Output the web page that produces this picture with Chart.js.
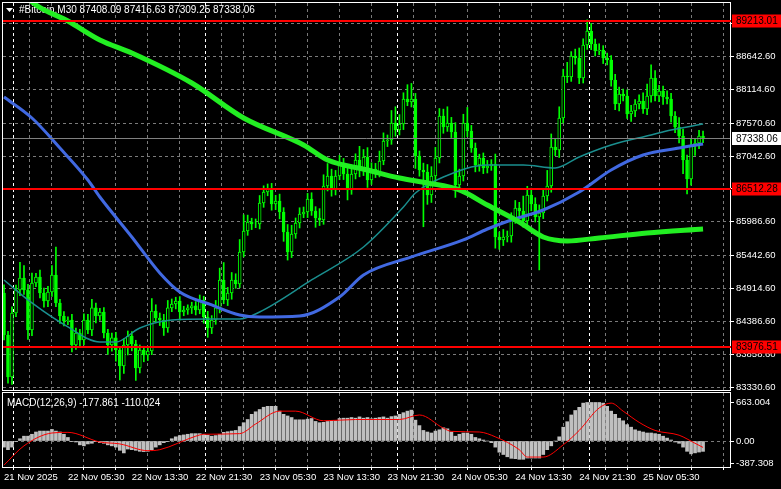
<!DOCTYPE html>
<html><head><meta charset="utf-8">
<script src="https://cdn.jsdelivr.net/npm/chart.js@4.4.1/dist/chart.umd.min.js"></script>
<style>
html,body{margin:0;padding:0;background:#000;width:781px;height:489px;overflow:hidden}
#w1{position:absolute;left:0;top:0;width:781px;height:392px}
#w2{position:absolute;left:0;top:391px;width:781px;height:98px}
</style></head><body>
<div id="w1"><canvas id="c1"></canvas></div>
<div id="w2"><canvas id="c2"></canvas></div>
<script>
const firstOpen = 84844;
const closes = [
84170,83495,84523,84893,85085,84893,84250,85005,85101,84844,
84716,84860,85133,84684,84475,84395,84411,84009,84202,84090,
84411,84250,84604,84475,84539,84202,84009,84122,83929,83672,
84009,84154,84025,83640,83929,83849,83913,84555,84443,84411,
84282,84604,84668,84716,84539,84571,84604,84636,84571,84732,
84459,84282,84411,84604,85053,84732,84844,85053,84989,85503,
85840,85985,85953,85953,86290,86466,86515,86274,86322,86145,
85824,85503,85792,85969,86113,86145,86354,86161,86049,86017,
86563,86723,86499,86723,86916,86756,86499,86756,86980,86820,
87029,86659,86836,86788,86964,87286,87302,87575,87462,87559,
87960,87912,87960,87045,86820,86788,86418,86723,87013,87687,
87510,87575,87430,86579,86723,87575,87446,87173,86900,87013,
86852,86884,86916,85744,85696,85744,85760,86033,86210,86161,
86001,86418,86274,86065,86129,86402,86563,87189,87141,87655,
88329,88313,88651,88619,88297,88827,89052,88843,88731,88747,
88619,88586,88265,87880,88040,88008,87719,87767,87880,87928,
87799,88008,88297,88008,88089,87992,87960,87687,87510,87366,
86980,86675,87205,87253,87366,87338];
const wickUp = [
130,60,100,80,250,200,90,160,60,110, 80,90,150,450,60,70,50,90,80,60,
100,90,140,80,60,70,60,80,90,60, 100,80,70,60,80,60,60,200,100,80,
90,120,80,60,70,60,50,60,70,80, 60,90,70,120,190,280,90,120,100,200,
260,110,60,80,120,100,80,90,90,110, 70,120,140,80,100,80,90,100,70,150,
180,200,110,90,140,90,120,80,100,220, 120,150,100,90,160,130,80,200,260,150,
100,230,250,90,80,110,120,150,170,120, 110,260,90,150,110,140,250,90,80,60,
80,90,70,160,80,120,80,100,120,90, 240,140,110,100,130,120,250,210,130,180,
110,220,70,110,160,100,180,120,80,100, 70,80,70,90,110,80,100,90,70,100,
130,190,210,120,90,80,100,90,70,150, 110,80,110,70,90,80];
const wickDown = [
80,100,120,60,90,70,150,90,60,80, 100,90,70,60,120,80,60,110,70,90,
80,60,90,110,70,80,150,100,180,225, 120,160,110,200,80,110,90,60,80,90,
120,70,60,80,130,60,70,90,80,60, 100,150,90,70,80,60,90,100,70,60,
80,70,90,60,80,70,60,100,90,110, 150,130,90,70,80,60,90,70,150,90,
70,80,100,80,60,90,160,70,80,110, 90,120,70,90,80,60,90,70,100,80,
90,60,80,200,100,880,150,120,90,80, 100,70,90,200,110,80,90,70,110,100,
90,80,70,180,150,90,80,100,70,120, 100,90,110,80,850,90,80,100,90,120,
80,90,70,100,90,80,70,90,80,60, 90,80,100,90,110,80,70,120,90,80,
70,90,100,80,90,120,80,100,90,110, 220,240,100,150,90,80];
// moving averages (bar index, price)
const maSlowIdx = [0,8,16,24,32,47,60,75,81,91,99,106,114,121,129,135,141,149,161,175];
const maSlowVal = [89950,89470,89213,88908,88699,88217,87655,87221,86980,86820,86691,86611,86499,86258,85985,85744,85680,85728,85808,85872];
const maMidIdx = [0,7,14,21,24,32,39,44,52,59,64,74,84,90,102,115,121,127,135,144,152,160,169,175];
const maMidVal = [87992,87655,87173,86659,86386,85744,85166,84861,84652,84491,84459,84475,84780,85134,85423,85696,85872,86017,86177,86466,86820,87061,87173,87237];
const maFastIdx = [0,7,16,24,28,34,42,52,59,64,77,90,100,103,110,121,130,138,144,152,162,167,175];
const maFastVal = [85053,84684,84299,84057,84057,84282,84411,84427,84427,84539,85053,85583,86226,86450,86707,86900,86900,86852,87029,87221,87382,87462,87559];
const macdHist = [
-105,-149,-105,-11,39,83,83,116,155,171, 171,171,199,171,155,116,61,-6,-17,-66,
-83,-50,-39,-11,-28,-39,-66,-83,-105,-160, -205,-138,-149,-160,-177,-182,-177,-149,-105,-66,
-28,-6,39,72,94,105,116,127,127,127, 116,100,83,94,116,149,160,171,182,249,
315,370,459,503,542,581,597,597,597,514, 459,431,404,365,365,365,376,387,337,315,
321,337,348,348,387,393,393,404,393,415, 393,404,382,393,404,415,393,420,431,459,
487,514,531,359,265,182,155,138,171,193, 227,210,155,83,116,138,138,116,61,39,
17,0,-28,-105,-193,-232,-271,-298,-304,-315, -315,-293,-293,-293,-293,-232,-149,-83,0,72,
238,332,448,525,580,652,663,663,663,663, 652,597,514,459,392,348,282,238,193,171,
155,138,138,127,116,83,50,17,-17,-39, -105,-177,-221,-204,-190,-178];
const sigIdx = [0,5,12,16,24,29,36,39,48,50,59,63,69,73,80,88,99,104,110,112,119,123,129,131,135,140,144,149,152,155,159,163,169,173,175];
const sigVal = [-415,-83,138,149,-17,-50,-166,-149,83,116,127,293,514,514,348,370,370,448,221,166,155,72,-149,-276,-276,-66,182,569,652,514,321,182,100,-39,-110];
const priceTicks = [89170.6,88642.6,88114.6,87570.6,87042.6,86514.6,85986.6,85442.6,84914.6,84386.6,83858.6,83330.6];
const macdTicks = [663.004,0,-387.308];
const levels = [89213.01,86512.28,83976.51];
const lastPrice = 87338.06;
const timeLabels = {0:'21 Nov 2025',16:'22 Nov 05:30',32:'22 Nov 13:30',48:'22 Nov 21:30',64:'23 Nov 05:30',80:'23 Nov 13:30',96:'23 Nov 21:30',112:'24 Nov 05:30',128:'24 Nov 13:30',144:'24 Nov 21:30',160:'25 Nov 05:30'};
const dayIdx = [5,53,101,149];
const headerText = '#Bitcoin,M30 87408.09 87416.63 87309.25 87338.06';
const macdText = 'MACD(12,26,9) -177.861 -110.024';

const FONT = 'Liberation Sans';
const opens = closes.map((c,i)=> i===0 ? firstOpen : closes[i-1]);
const bodies = closes.map((c,i)=>({x:i,y:[opens[i],c]}));
const wicks = closes.map((c,i)=>({x:i,y:[Math.min(opens[i],c)-wickDown[i],Math.max(opens[i],c)+wickUp[i]]}));
const bull = closes.map((c,i)=> c>=opens[i]);
const pts = (a,b)=>a.map((x,i)=>({x,y:b[i]}));
const X_MIN=-0.25, X_MAX=181.75;
const gridTicks = [];
for(let i=0;i<=181;i+=8) gridTicks.push(i);
dayIdx.forEach(d=>gridTicks.push(d));
gridTicks.sort((a,b)=>a-b);
const noPad = s=>{s.paddingTop=0;s.paddingBottom=0;s.paddingLeft=0;s.paddingRight=0;};

function xScale(showLabels){
  return {type:'linear',min:X_MIN,max:X_MAX,offset:false,
    afterBuildTicks:s=>{s.ticks=gridTicks.map(v=>({value:v}));},
    afterFit:s=>{s.height=showLabels?22:0;noPad(s);},
    grid:{color:c=>dayIdx.includes(c.tick&&c.tick.value)?'#ffffff':'#7a7a7a',lineWidth:1,drawTicks:showLabels,tickLength:3,tickColor:'#ffffff'},
    border:{display:false,dash:[3,3]},
    ticks:{display:showLabels,autoSkip:false,maxRotation:0,align:'start',padding:2,color:'#ffffff',font:{family:FONT,size:9.5},
      callback:v=>timeLabels[v]||''}};
}

const framePlugin = {id:'frame',
  beforeDatasetsDraw(ch,a,o){ if(o.text){const c=ch.ctx;c.save();c.font='10px '+FONT;c.fillStyle='#fff';c.textBaseline='middle';
    if(o.tri){c.beginPath();c.moveTo(6,8);c.lineTo(13,8);c.lineTo(9.5,12);c.closePath();c.fill();}
    c.fillText(o.text,o.tx,o.ty);c.restore();}},
  afterDraw(ch,a,o){const c=ch.ctx,ca=ch.chartArea;c.save();c.strokeStyle='#fff';c.lineWidth=1;
    c.strokeRect(ca.left-0.5,ca.top-0.5,ca.right-ca.left+1,ca.bottom-ca.top+1);
    if(o.levels){const y=ch.scales.y;c.font='10px '+FONT;c.textBaseline='middle';
      const yp=Math.round(y.getPixelForValue(lastPrice))+0.5;
      c.strokeStyle='#808080';c.beginPath();c.moveTo(ca.left,yp);c.lineTo(ca.right,yp);c.stroke();
      c.fillStyle='#fff';c.fillRect(ca.right+2,yp-6.5,49,13);c.fillStyle='#000';c.fillText(lastPrice.toFixed(2),ca.right+6,yp+0.5);
      levels.forEach(v=>{const p=Math.round(y.getPixelForValue(v));
        c.fillStyle='#ff0000';c.fillRect(ca.left,p-1,ca.right-ca.left+1,2);
        c.fillRect(ca.right+2,p-6.5,49,13);c.fillStyle='#000';c.fillText(v.toFixed(2),ca.right+6,p+0.5);});}
    c.restore();}};

new Chart(document.getElementById('c1'),{
  type:'bar',
  data:{datasets:[
    {type:'line',data:pts(maSlowIdx,maSlowVal),borderColor:'#22ee22',borderWidth:5,pointRadius:0,cubicInterpolationMode:'monotone',order:1},
    {type:'line',data:pts(maMidIdx,maMidVal),borderColor:'#4169e1',borderWidth:3,pointRadius:0,cubicInterpolationMode:'monotone',order:2},
    {type:'line',data:pts(maFastIdx,maFastVal),borderColor:'#1a8f8f',borderWidth:1.5,pointRadius:0,cubicInterpolationMode:'monotone',order:3},
    {data:bodies,backgroundColor:bull.map(b=>b?'#000000':'#00ff00'),borderColor:'#00ff00',borderWidth:1,borderSkipped:false,barThickness:3,grouped:false,order:4},
    {data:wicks,backgroundColor:'#00ff00',barThickness:1,grouped:false,order:5}
  ]},
  options:{animation:false,responsive:true,maintainAspectRatio:false,
    layout:{padding:{left:3,top:3,right:0,bottom:2}},
    plugins:{legend:{display:false},tooltip:{enabled:false},
      frame:{levels:true,text:headerText,tx:19,ty:10,tri:true}},
    scales:{x:xScale(false),
      y:{position:'right',min:83286,max:89502,
        afterBuildTicks:s=>{s.ticks=priceTicks.map(v=>({value:v}));},
        afterFit:s=>{s.width=51;noPad(s);},
        grid:{color:'#7a7a7a',tickLength:4,tickColor:'#ffffff',drawTicks:true},
        border:{display:false,dash:[3,3]},
        ticks:{color:'#fff',padding:2,font:{family:FONT,size:9.5},callback:v=>v.toFixed(2)}}}},
  plugins:[framePlugin]});

new Chart(document.getElementById('c2'),{
  type:'bar',
  data:{datasets:[
    {type:'line',data:pts(sigIdx,sigVal),borderColor:'#ff0000',borderWidth:1,pointRadius:0,cubicInterpolationMode:'monotone',order:1},
    {data:macdHist.map((v,i)=>({x:i,y:v})),backgroundColor:'#c0c0c0',barThickness:3,order:2}
  ]},
  options:{animation:false,responsive:true,maintainAspectRatio:false,
    layout:{padding:{left:3,top:2,right:0,bottom:0}},
    plugins:{legend:{display:false},tooltip:{enabled:false},
      frame:{levels:false,text:macdText,tx:7,ty:12,tri:false}},
    scales:{x:xScale(true),
      y:{position:'right',min:-447,max:826,
        afterBuildTicks:s=>{s.ticks=macdTicks.map(v=>({value:v}));},
        afterFit:s=>{s.width=51;noPad(s);},
        grid:{color:c=>c.tick&&c.tick.value===0?'#7a7a7a':'rgba(0,0,0,0)',tickLength:4,tickColor:'#ffffff'},
        border:{display:false,dash:[3,3]},
        ticks:{color:'#fff',padding:2,font:{family:FONT,size:9.5},callback:v=>v===0?'0.00':String(v)}}}},
  plugins:[framePlugin]});
</script>
</body></html>
